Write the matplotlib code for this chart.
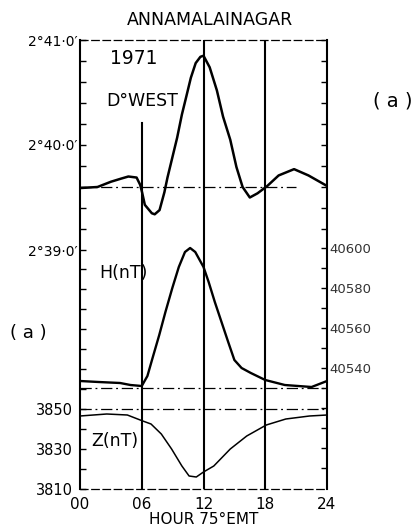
import numpy as np
import matplotlib
matplotlib.use("Agg")
import matplotlib.pyplot as plt

# declination D (minutes of arc past 2 deg, west)
d_hours = [0, 1.7, 3.0, 4.0, 4.7, 5.5, 5.85, 6.03, 6.3, 6.98, 7.26, 7.73, 8.2,
           8.5, 8.97, 9.44, 9.9, 10.3, 10.77, 11.24, 11.7, 12.0, 12.6, 13.3,
           13.9, 14.6, 15.2, 15.8, 16.5, 17.25, 18.2, 19.3, 20.8, 22.2, 24.0]
d_west = [39.59, 39.60, 39.65, 39.68, 39.70, 39.69, 39.62, 39.55, 39.43,
          39.35, 39.34, 39.38, 39.55, 39.69, 39.88, 40.07, 40.29, 40.45,
          40.64, 40.78, 40.84, 40.85, 40.74, 40.52, 40.27, 40.05, 39.79,
          39.60, 39.50, 39.54, 39.61, 39.71, 39.77, 39.71, 39.61]

# horizontal intensity H (nT)
h_hours = [0, 1.8, 3.9, 4.9, 6.0, 6.55, 7.05, 7.7, 8.3, 8.97, 9.6, 10.2, 10.7,
           11.2, 12.0, 12.5, 13.1, 13.75, 14.4, 15.0, 15.7, 16.6, 18.0, 19.9,
           22.5, 24.0]
h_nt = [40533.5, 40533, 40532.5, 40531.5, 40531, 40536, 40545, 40556.5,
        40568, 40580, 40590.5, 40598, 40600, 40598, 40590.5, 40583, 40573,
        40563, 40553, 40544, 40540, 40537.5, 40534, 40531.5, 40530.5, 40533.5]

# vertical intensity Z (nT)
z_hours = [0, 2.6, 4.6, 6.1, 6.9, 7.9, 8.9, 9.9, 10.6, 11.3, 12.0, 13.0, 14.6,
           16.2, 18.1, 20.0, 22.3, 24.0]
z_nt = [3846.5, 3847.5, 3847, 3844, 3842.5, 3837.5, 3830, 3821.5, 3816.5,
        3816, 3818.5, 3821.5, 3830, 3836.5, 3842, 3845, 3846.5, 3847]

d_base = 39.6
h_base = 40530
z_base = 3850

hour_ticks = [0, 6, 12, 18, 24]
hour_labels = ['00', '06', '12', '18', '24']
d_labels = {39.0: '2°39·0′', 40.0: '2°40·0′', 41.0: '2°41·0′'}
h_labels = [40540, 40560, 40580, 40600]
z_labels = [3810, 3830, 3850]

base_ls = (0, (9, 3, 1.5, 3))
tick_kw = dict(direction='in', length=4, width=1.0, color='black')


def twin(ax, side):
    t = ax.twinx()
    for s in t.spines.values():
        s.set_visible(False)
    t.yaxis.set_ticks_position(side)
    t.yaxis.set_label_position(side)
    t.tick_params(axis='y', which='both', **tick_kw)
    return t


fig = plt.figure(figsize=(4.18, 5.27), dpi=100)
ax = fig.add_axes([80 / 418, 1 - 489 / 527, 247 / 418, 449 / 527])

# D panel scale: 1 minute of arc = 105 px
ax.set_xlim(0, 24)
ax.set_ylim(41.0 - 449 / 105, 41.0)
ax.plot(d_hours, d_west, color='black', lw=1.8, solid_joinstyle='round')
ax.hlines(d_base, 0, 21, color='black', lw=0.9, linestyles=[base_ls])
ax.set_yticks(list(d_labels.keys()), list(d_labels.values()), fontsize=10)
ax.set_yticks([v for v in np.round(np.arange(39.0, 41.01, 0.2), 1)
               if v not in d_labels], minor=True)
ax.tick_params(axis='y', which='both', pad=1.5, **tick_kw)
ax.set_xticks(hour_ticks, hour_labels, fontsize=11)
ax.tick_params(axis='x', length=0, pad=6)
ax.set_xlabel('HOUR 75°EMT', fontsize=11, labelpad=0)

ax.spines['left'].set_linewidth(1.5)
ax.spines['right'].set_linewidth(1.5)
for side in ('top', 'bottom'):
    ax.spines[side].set_linewidth(0.9)
    ax.spines[side].set_linestyle((0, (6, 3)))

ax.axvline(6, ymin=0, ymax=(489 - 123) / 449, color='black', lw=1.5)
ax.axvline(12, color='black', lw=1.5)
ax.axvline(18, color='black', lw=1.5)

# right-hand D ticks
axr = twin(ax, 'right')
axr.set_ylim(ax.get_ylim())
axr.set_yticks(np.round(np.arange(39.2, 41.01, 0.2), 1), [])

# H on the right, 2 px per nT
axh = twin(ax, 'right')
axh.set_ylim(40600 - 241 / 2, 40600 + 208 / 2)
axh.plot(h_hours, h_nt, color='black', lw=1.7, solid_joinstyle='round')
axh.axhline(h_base, color='black', lw=0.9, ls=base_ls)
axh.set_yticks(h_labels, [str(v) for v in h_labels], fontsize=9.5,
               color='#333333')
axh.set_yticks([v for v in range(40490, 40601, 10) if v not in h_labels],
               minor=True)
axh.tick_params(axis='y', pad=2)

# Z on the left, 2 px per nT
axz = twin(ax, 'left')
axz.set_ylim(3810, 3810 + 449 / 2)
axz.plot(z_hours, z_nt, color='black', lw=1.1, solid_joinstyle='round')
axz.axhline(z_base, color='black', lw=0.9, ls=base_ls)
axz.set_yticks(z_labels, [str(v) for v in z_labels], fontsize=10.5)
axz.set_yticks([v for v in range(3820, 3921, 10) if v not in z_labels],
               minor=True)
axz.tick_params(axis='y', pad=5)

fig.text(210 / 418, 1 - 20 / 527, 'ANNAMALAINAGAR', fontsize=12.5,
         ha='center', va='center')
fig.text(134 / 418, 1 - 59 / 527, '1971', fontsize=13.5, ha='center',
         va='center')
fig.text(142 / 418, 1 - 101 / 527, 'D°WEST', fontsize=12.5, ha='center',
         va='center')
fig.text(393 / 418, 1 - 101 / 527, '( a )', fontsize=14, ha='center',
         va='center')
fig.text(28 / 418, 1 - 333 / 527, '( a )', fontsize=13, ha='center',
         va='center')
fig.text(123 / 418, 1 - 273 / 527, 'H(nT)', fontsize=12.5, ha='center',
         va='center')
fig.text(115 / 418, 1 - 441 / 527, 'Z(nT)', fontsize=12.5, ha='center',
         va='center')

fig.savefig('out.png', dpi=100, facecolor='white')
